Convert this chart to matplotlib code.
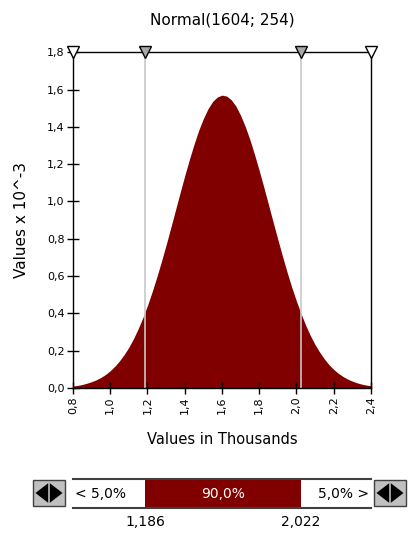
import matplotlib.pyplot as plt
from matplotlib.patches import Rectangle, Polygon

# density values (x 10^-3), x in thousands
x_vals = [0.800, 0.825, 0.850, 0.875, 0.900, 0.925, 0.950, 0.975, 1.000, 1.025,
          1.050, 1.075, 1.100, 1.125, 1.150, 1.175, 1.200, 1.225, 1.250, 1.275,
          1.300, 1.325, 1.350, 1.375, 1.400, 1.425, 1.450, 1.475, 1.500, 1.525,
          1.550, 1.575, 1.600, 1.625, 1.650, 1.675, 1.700, 1.725, 1.750, 1.775,
          1.800, 1.825, 1.850, 1.875, 1.900, 1.925, 1.950, 1.975, 2.000, 2.025,
          2.050, 2.075, 2.100, 2.125, 2.150, 2.175, 2.200, 2.225, 2.250, 2.275,
          2.300, 2.325, 2.350, 2.375, 2.400]
density = [0.011, 0.014, 0.019, 0.026, 0.034, 0.044, 0.057, 0.073, 0.093, 0.117,
           0.146, 0.180, 0.219, 0.265, 0.318, 0.377, 0.443, 0.516, 0.595, 0.679,
           0.767, 0.859, 0.953, 1.046, 1.138, 1.225, 1.307, 1.381, 1.444, 1.497,
           1.536, 1.560, 1.570, 1.565, 1.545, 1.511, 1.462, 1.402, 1.332, 1.252,
           1.166, 1.076, 0.983, 0.889, 0.797, 0.707, 0.621, 0.540, 0.466, 0.398,
           0.336, 0.281, 0.233, 0.192, 0.156, 0.125, 0.100, 0.079, 0.062, 0.048,
           0.037, 0.028, 0.021, 0.016, 0.012]

x_ticks = [0.8, 1.0, 1.2, 1.4, 1.6, 1.8, 2.0, 2.2, 2.4]
y_ticks = [0.0, 0.2, 0.4, 0.6, 0.8, 1.0, 1.2, 1.4, 1.6, 1.8]
lower, upper = 1.186, 2.022
pct_left, pct_mid, pct_right = '5,0%', '90,0%', '5,0%'

RED = '#800000'

def comma(v, fmt='{:.1f}'):
    return fmt.format(v).replace('.', ',')

fig = plt.figure(figsize=(4.08, 5.33), dpi=100)
ax = fig.add_axes([0.179, 0.272, 0.730, 0.630])

ax.fill_between(x_vals, density, 0, color=RED, lw=0)
ax.axvline(lower, color='#c8c8c8', lw=1.2)
ax.axvline(upper, color='#c8c8c8', lw=1.2)

ax.set_xlim(0.8, 2.4)
ax.set_ylim(0, 1.8)
ax.set_xticks(x_ticks)
ax.set_xticklabels([comma(v) for v in x_ticks], rotation=90, fontsize=8)
ax.set_yticks(y_ticks)
ax.set_yticklabels([comma(v) for v in y_ticks], fontsize=8)
ax.tick_params(direction='inout', length=8, width=1, pad=2)
for s in ax.spines.values():
    s.set_linewidth(1)

# markers along the top
ax.plot([0.8, 2.4], [1.8, 1.8], 'v', ms=9, mfc='white', mec='black', clip_on=False, zorder=5)
ax.plot([lower, upper], [1.8, 1.8], 'v', ms=9, mfc='#a8a8a8', mec='black', clip_on=False, zorder=5)

ax.set_title('Normal(1604; 254)', fontsize=11, pad=20)
ax.set_xlabel('Values in Thousands', fontsize=10.5, labelpad=13)
ax.set_ylabel('Values x 10^-3', fontsize=11, labelpad=13)

# percentile bar
bx = fig.add_axes([0.179, 0.047, 0.730, 0.054])
bx.set_xlim(0.8, 2.4)
bx.set_ylim(0, 1)
bx.axis('off')
bx.barh(0.5, upper - lower, left=lower, height=1, color=RED)
bx.plot([0.8, 2.4], [1, 1], color='#404040', lw=1.5, clip_on=False)
bx.plot([0.8, 2.4], [0, 0], color='#404040', lw=1.5, clip_on=False)
bx.text(0.81, 0.5, '< ' + pct_left, va='center', ha='left', fontsize=10)
bx.text((lower + upper) / 2, 0.5, pct_mid, va='center', ha='center', fontsize=10, color='white')
bx.text(2.39, 0.5, pct_right + ' >', va='center', ha='right', fontsize=10)
bx.text(lower, -0.25, comma(lower, '{:.3f}'), va='top', ha='center', fontsize=10)
bx.text(upper, -0.25, comma(upper, '{:.3f}'), va='top', ha='center', fontsize=10)

# slider buttons
def button(x0):
    w, h = 32 / 408, 26 / 533
    y0 = 1 - 506 / 533
    fig.patches.append(Rectangle((x0, y0), w, h, transform=fig.transFigure,
                                 fc='#c0c0c0', ec='#404040', lw=1))
    xm = x0 + w / 2
    fig.patches.append(Polygon([(xm - 0.002, y0 + 0.006), (xm - 0.002, y0 + h - 0.006),
                                (x0 + 0.006, y0 + h / 2)], transform=fig.transFigure, fc='black'))
    fig.patches.append(Polygon([(xm + 0.002, y0 + 0.006), (xm + 0.002, y0 + h - 0.006),
                                (x0 + w - 0.006, y0 + h / 2)], transform=fig.transFigure, fc='black'))

button(33 / 408)
button(374 / 408)

fig.savefig('out.png', dpi=100)
